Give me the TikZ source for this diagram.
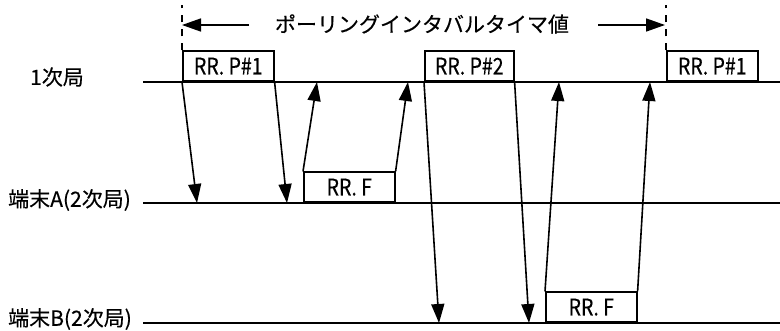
\documentclass[tikz,border=0pt]{standalone}
\usepackage{fontspec}
\setmainfont{Noto Sans CJK JP}[FakeBold=0.35]
\newfontfamily\rrfont{Noto Sans CJK JP}[FakeStretch=0.85,FakeBold=0.35]
\usetikzlibrary{arrows.meta}
\begin{document}
\begin{tikzpicture}[x=1pt,y=-1pt,
  lane/.style={line width=1.9pt},
  msgbox/.style={draw, line width=1.6pt, minimum width=91pt, minimum height=30pt, inner sep=0pt, anchor=south west, font=\rrfont\fontsize{23}{23}\selectfont},
  sig/.style={line width=1.6pt, -{Triangle[length=19pt,width=13pt]}},
  guide/.style={line width=1.6pt, dash pattern=on 7pt off 7pt},
  lbl/.style={inner sep=0pt, font=\fontsize{21}{21}\selectfont}
]
\useasboundingbox (0,0) rectangle (780,330);
% lanes
\coordinate (L1s) at (143,82); \coordinate (L1e) at (780,82);
\coordinate (LAs) at (143,203); \coordinate (LAe) at (780,203);
\coordinate (LBs) at (143,323); \coordinate (LBe) at (780,323);
\draw[lane] (L1s) -- (L1e);
\draw[lane] (LAs) -- (LAe);
\draw[lane] (LBs) -- (LBe);
% labels
\node[lbl] (l1) at (57,77) {1次局};
\node[lbl, anchor=west] (lA) at (8,200) {端末A(2次局)};
\node[lbl, anchor=west] (lB) at (8,319) {端末B(2次局)};
% boxes
\node[msgbox] (p1) at (182,82) {RR. P\#1};
\node[msgbox, minimum width=89pt] (p2) at (424,82) {RR. P\#2};
\node[msgbox] (p3) at (666,82) {RR. P\#1};
\node[msgbox] (fA) at (303,203) {RR. F};
\node[msgbox] (fB) at (545,323) {RR. F};
% arrow targets
\coordinate (t1) at (197,203);
\coordinate (t2) at (287,203);
\coordinate (t3) at (317,82);
\coordinate (t4) at (408,82);
\coordinate (t5) at (439,323);
\coordinate (t6) at (529,323);
\coordinate (t7) at (559,82);
\coordinate (t8) at (650,82);
\draw[sig] (p1.south west) -- (t1);
\draw[sig] (p1.south east) -- (t2);
\draw[sig] (fA.north west) -- (t3);
\draw[sig] (fA.north east) -- (t4);
\draw[sig] (p2.south west) -- (t5);
\draw[sig] (p2.south east) -- (t6);
\draw[sig] (fB.north west) -- (t7);
\draw[sig] (fB.north east) -- (t8);
% polling interval
\coordinate (d1) at (182,5);
\coordinate (d3) at (666,5);
\draw[guide] (p1.north west) -- (d1);
\draw[guide] (p3.north west) -- (d3);
\node[lbl] (title) at (422,24) {ポーリングインタバルタイマ値};
\coordinate (hl) at (182,25);
\coordinate (hlt) at (249,25);
\coordinate (hr) at (665,25);
\coordinate (hrt) at (598,25);
\draw[sig] (hlt) -- (hl);
\draw[sig] (hrt) -- (hr);
\end{tikzpicture}
\end{document}
